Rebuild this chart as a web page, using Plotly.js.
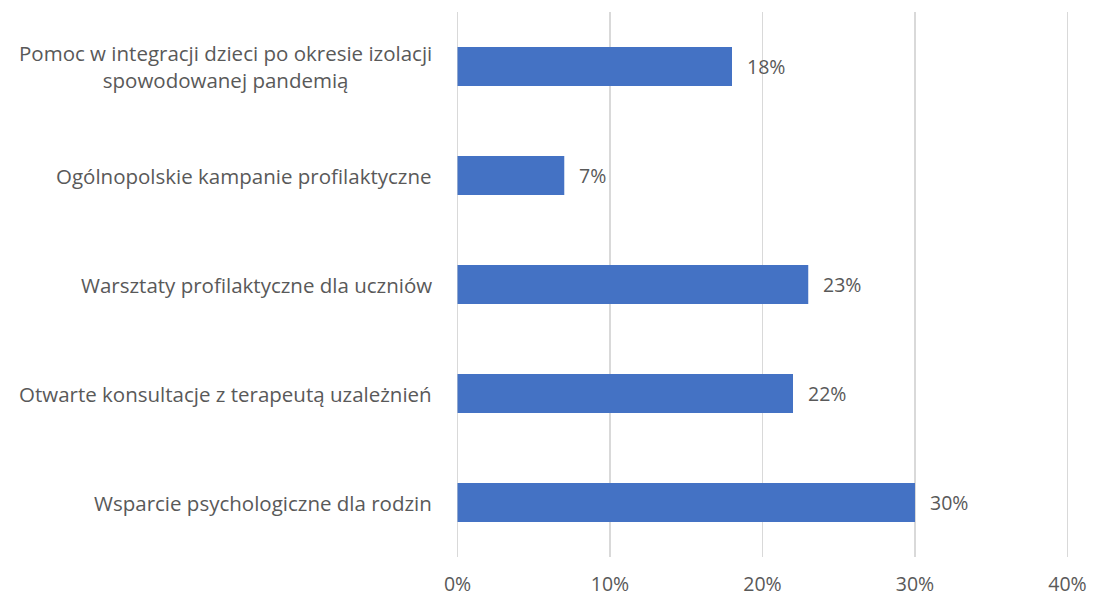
<!DOCTYPE html>
<html><head><meta charset="utf-8">
<script src="https://cdn.plot.ly/plotly-3.0.1.min.js"></script>
<style>html,body{margin:0;padding:0;background:#fff}#chart{width:1094px;height:598px}</style>
</head><body><div id="chart"></div>
<script>
const categories = [
  "Pomoc w integracji dzieci po okresie izolacji<br>spowodowanej pandemią",
  "Ogólnopolskie kampanie profilaktyczne",
  "Warsztaty profilaktyczne dla uczniów",
  "Otwarte konsultacje z terapeutą uzależnień",
  "Wsparcie psychologiczne dla rodzin"
];
const values = [0.18, 0.07, 0.23, 0.22, 0.30];
const tickVals = [0, 0.1, 0.2, 0.3, 0.4];
const tickText = ["0%", "10%", "20%", "30%", "40%"];

const font = "'Open Sans', sans-serif";
const textColor = "#595959";
const trace = {
  type: "bar", orientation: "h",
  x: values, y: categories,
  marker: {color: "#4472C4"},
  hoverinfo: "none"
};
const valueLabels = values.map((v, i) => ({
  x: v, y: categories[i], xref: "x", yref: "y",
  text: Math.round(v * 100) + "%", showarrow: false,
  xanchor: "left", xshift: 13,
  font: {family: font, size: 19.5, color: textColor}
}));
const categoryLabels = categories.map((c) => ({
  x: 0, y: c, xref: "paper", yref: "y",
  text: c, showarrow: false, align: "center",
  xanchor: "right", xshift: -22,
  font: {family: font, size: 20.5, color: textColor}
}));
const layout = {
  width: 1094, height: 598,
  margin: {l: 456, r: 25, t: 12, b: 41},
  paper_bgcolor: "#fff", plot_bgcolor: "#fff",
  bargap: 0.64,
  showlegend: false,
  font: {family: font, size: 19.5, color: textColor},
  xaxis: {
    range: [-0.001, 0.401], tickvals: tickVals, ticktext: tickText,
    showgrid: true, gridcolor: "#D9D9D9", gridwidth: 1.5,
    zeroline: false, showline: false, ticks: "",
    ticklabelstandoff: 13,
    tickfont: {family: font, size: 19.5, color: textColor},
    fixedrange: true
  },
  yaxis: {
    autorange: "reversed", showgrid: false, zeroline: false, showline: false,
    ticks: "", showticklabels: false,
    fixedrange: true
  },
  annotations: valueLabels.concat(categoryLabels)
};
Plotly.newPlot("chart", [trace], layout, {displayModeBar: false, staticPlot: true});
</script></body></html>
